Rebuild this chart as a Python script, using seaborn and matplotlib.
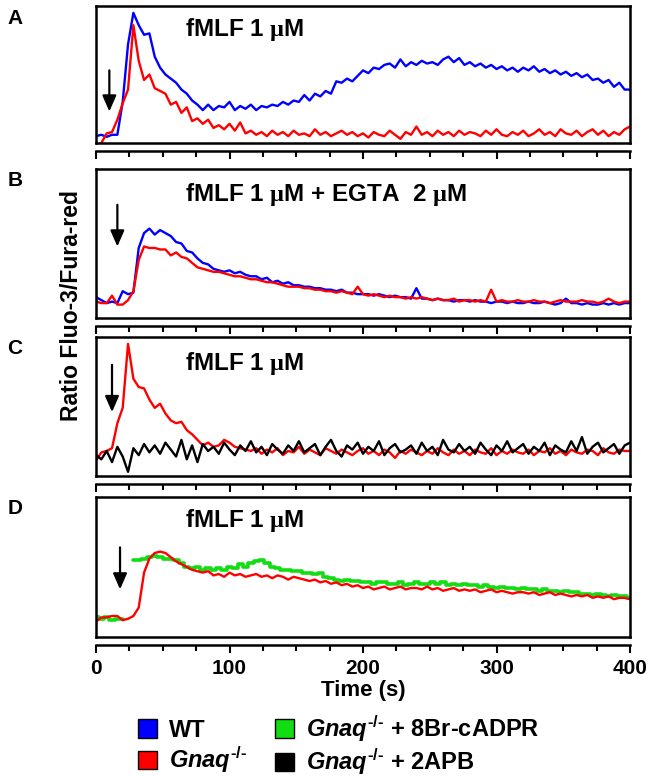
import numpy as np
import pandas as pd
import matplotlib
matplotlib.use("Agg")
import matplotlib.pyplot as plt
from matplotlib.patches import Patch
import seaborn as sns

# ---- data: Fluo-3/Fura-red ratio (relative units, 0-100 of panel range), sampled every 4 s ----
STEP_S = 4

a_wt = [5, 6, 4.5, 6, 6, 30, 72, 95, 86, 79,
        80, 63, 55, 50, 47, 44, 39, 36, 31, 28,
        24, 28, 24, 27, 26, 30, 24, 27, 25, 28,
        24, 27, 26, 28, 27, 30, 28, 31, 30, 35,
        31, 36, 34, 38, 36, 45, 44, 47, 45, 49,
        53, 51, 55, 54, 57, 58, 55, 61, 56, 59,
        57, 60, 58, 59, 57, 61, 63, 59, 62, 57,
        59, 56, 58, 55, 57, 54, 56, 53, 55, 52,
        55, 53, 56, 52, 54, 51, 53, 50, 52, 49,
        51, 48, 50, 46, 47, 44, 46, 41, 44, 39,
        39]
a_ko = [np.nan, 0, 7, 8, 17, 29, 39, 86, 60, 46,
        50, 40, 38, 36, 28, 30, 22, 26, 16, 18,
        14, 17, 11, 13, 10, 14, 9, 15, 7, 9,
        6, 8, 5, 9, 6, 8, 5, 9, 6, 7,
        5, 10, 6, 8, 5, 7, 9, 6, 8, 5,
        7, 4, 8, 6, 5, 9, 6, 3, 8, 6,
        12, 6, 8, 5, 9, 6, 8, 5, 9, 6,
        8, 7, 5, 9, 6, 10, 6, 5, 8, 6,
        9, 5, 7, 10, 6, 8, 5, 10, 7, 6,
        9, 5, 8, 10, 6, 9, 5, 8, 6, 10,
        12]

b_wt = [14, 12, 10, 11, 10, 18, 16, 17, 47, 57,
        60, 56, 59, 57, 55, 51, 50, 45, 44, 40,
        37, 36, 33, 32, 31, 32, 30, 31, 29, 28,
        28, 26, 27, 24, 25, 23, 24, 22, 22, 21,
        21, 20, 20, 19, 19, 18, 19, 17, 17, 16,
        16, 16, 15, 16, 15, 14, 15, 14, 14, 13,
        20, 13, 13, 12, 13, 12, 12, 11, 12, 12,
        11, 12, 11, 11, 10, 11, 11, 10, 11, 10,
        10, 11, 10, 10, 11, 10, 9, 10, 13, 10,
        10, 9, 10, 9, 9, 10, 9, 10, 9, 10,
        10]
b_ko = [11, 10, 10, 15, 9, 9, 12, 18, 39, 48,
        47, 47, 46, 46, 42, 44, 41, 40, 37, 34,
        33, 32, 31, 31, 30, 29, 28, 28, 27, 26,
        26, 25, 24, 24, 23, 22, 21, 21, 21, 20,
        20, 19, 19, 18, 18, 17, 18, 17, 16, 21,
        16, 15, 16, 15, 14, 15, 14, 14, 13, 14,
        13, 14, 13, 12, 13, 12, 12, 13, 11, 12,
        12, 11, 12, 11, 19, 11, 12, 11, 11, 12,
        11, 11, 12, 11, 11, 10, 11, 12, 11, 11,
        11, 12, 11, 11, 10, 11, 13, 11, 10, 11,
        11]

c_ko = [11, 17, 18, 20, 38, 49, 95, 70, 64, 63,
        55, 49, 52, 45, 40, 38, 39, 33, 30, 26,
        22, 24, 21, 22, 26, 24, 21, 20, 19, 18,
        20, 16, 19, 17, 20, 15, 18, 17, 21, 16,
        19, 17, 15, 20, 18, 16, 19, 17, 15, 18,
        20, 16, 18, 15, 19, 17, 13, 18, 16, 19,
        17, 15, 18, 16, 20, 17, 15, 19, 16, 18,
        15, 19, 17, 16, 20, 15, 18, 16, 19, 17,
        16, 19, 15, 18, 17, 20, 16, 18, 15, 19,
        17, 16, 19, 18, 15, 20, 17, 16, 19, 18,
        18]
c_2apb = [15, 12, 18, 10, 21, 14, 3, 20, 15, 23,
          17, 22, 16, 24, 19, 14, 26, 12, 22, 10,
          23, 18, 21, 16, 24, 19, 15, 22, 18, 25,
          17, 21, 15, 23, 19, 16, 22, 18, 25, 17,
          20, 23, 15, 21, 26, 18, 14, 22, 19, 24,
          16, 21, 18, 25, 15, 20, 23, 17, 19, 22,
          16, 24, 18, 21, 15, 26, 19, 17, 23, 18,
          21, 16, 24, 19, 15, 22, 18, 25, 17, 20,
          23, 16, 21, 18, 24, 15, 22, 19, 17, 25,
          18, 28, 16, 21, 24, 17, 20, 23, 16, 22,
          24]

d_ko = [11, 14, 14, 15, 15, 12, 13, 15, 21, 46,
        56, 60, 61, 60, 57, 54, 52, 50, 48, 47,
        46, 47, 44, 45, 43, 46, 44, 45, 43, 44,
        45, 43, 44, 42, 44, 43, 41, 43, 42, 41,
        40, 41, 39, 40, 38, 39, 37, 38, 36, 37,
        35, 36, 34, 35, 36, 34, 35, 36, 34, 35,
        35, 34, 36, 34, 35, 33, 34, 35, 33, 34,
        33, 34, 32, 33, 34, 32, 33, 32, 31, 32,
        32, 31, 32, 30, 31, 32, 30, 31, 30, 29,
        30, 29, 30, 28, 29, 28, 29, 27, 28, 28,
        27]
d_8br = [14, 13, 14, 12, 13, 13, np.nan, 55, 55, 56,
         57, 58, 57, 56, 56, 55, 53, 50, 49, 50,
         48, 49, 48, 49, 48, 50, 49, 52, 50, 53,
         54, 55, 53, 50, 49, 48, 48, 47, 47, 46,
         46, 45, 46, 43, 42, 41, 40, 41, 40, 40,
         39, 39, 38, 39, 39, 38, 38, 39, 37, 38,
         39, 38, 38, 39, 38, 39, 37, 38, 37, 38,
         37, 37, 36, 37, 36, 35, 36, 35, 35, 34,
         35, 34, 34, 33, 34, 33, 33, 32, 33, 32,
         32, 31, 31, 30, 31, 30, 29, 30, 29, 29,
         28]

# fMLF addition (arrow): time, arrow tail level, arrow head level
arrow_t = [10, 16, 12, 18]
arrow_top = [53, 76, 80, 64]
arrow_tip = [23, 48, 46, 34]

panel_letters = ["A", "B", "C", "D"]
panel_titles = [
    r"fMLF 1 $\mathsf{\mu}$M",
    r"fMLF 1 $\mathsf{\mu}$M + EGTA  2 $\mathsf{\mu}$M",
    r"fMLF 1 $\mathsf{\mu}$M",
    r"fMLF 1 $\mathsf{\mu}$M",
]
x_ticks = [0, 100, 200, 300, 400]

BLUE, RED, GREEN, BLACK = "#0000FF", "#FF0000", "#12DD12", "#000000"
KO = r"$\mathit{Gnaq}^{\mathit{‐/‐}}$"
legend_labels = ["WT", KO, KO + " + 8Br-cADPR", KO + " + 2APB"]
legend_colors = [BLUE, RED, GREEN, BLACK]


def to_frame(values):
    v = np.asarray(values, dtype=float)
    t = np.arange(len(v)) * STEP_S
    seg = np.cumsum(np.isnan(v))
    df = pd.DataFrame({"t": t, "ratio": v, "seg": seg})
    return df.dropna()


sns.set_theme(style="white")
plt.rcParams["font.family"] = ["Liberation Sans", "DejaVu Sans"]
plt.rcParams["font.weight"] = "bold"
plt.rcParams["text.color"] = "black"
plt.rcParams["axes.labelcolor"] = "black"
plt.rcParams["xtick.color"] = "black"
plt.rcParams["mathtext.fontset"] = "custom"
plt.rcParams["mathtext.it"] = "Liberation Sans:italic:bold"
plt.rcParams["mathtext.rm"] = "Liberation Sans:bold"
plt.rcParams["mathtext.sf"] = "Liberation Serif"

W, H = 650, 776
fig = plt.figure(figsize=(W / 100, H / 100), dpi=100)

boxes = [(6, 143), (169, 318), (337, 476), (497, 637)]
panels = [
    [(a_wt, BLUE, {}), (a_ko, RED, {})],
    [(b_wt, BLUE, {}), (b_ko, RED, {})],
    [(c_ko, RED, {}), (c_2apb, BLACK, {})],
    [(d_8br, GREEN, {"drawstyle": "steps-mid", "lw": 2.6}), (d_ko, RED, {})],
]

for i, ((top, bot), series) in enumerate(zip(boxes, panels)):
    ax = fig.add_axes([96 / W, 1 - bot / H, 534 / W, (bot - top) / H])
    for vals, col, kw in series:
        df = to_frame(vals)
        lw = kw.pop("lw", 1.7)
        sns.lineplot(data=df, x="t", y="ratio", units="seg", estimator=None,
                     color=col, lw=lw, ax=ax, **kw)
    ax.set_xlim(0, 400)
    ax.set_ylim(0, 100)
    ax.set_xlabel("")
    ax.set_ylabel("")
    ax.set_yticks([])
    ax.set_xticks(x_ticks)
    ax.set_xticks(np.arange(0, 401, 25), minor=True)
    for s in ax.spines.values():
        s.set_linewidth(1.8)
        s.set_color("black")
    ax.spines["bottom"].set_position(("outward", 6))
    ax.plot([0, 1], [0, 0], transform=ax.transAxes, color="black", lw=1.8,
            clip_on=False, solid_capstyle="projecting")
    ax.tick_params(axis="x", which="major", direction="out", length=6, width=1.5,
                   bottom=True, color="black", labelsize=15, pad=4)
    ax.tick_params(axis="x", which="minor", direction="out", length=4, width=1.5,
                   bottom=True, color="black")
    if i < 3:
        ax.tick_params(axis="x", labelbottom=False)
    else:
        for lab in ax.get_xticklabels():
            lab.set_fontweight("bold")
        ax.set_xlabel("Time (s)", fontsize=16, fontweight="bold", labelpad=1)

    ax.annotate("", xy=(arrow_t[i], arrow_tip[i]), xytext=(arrow_t[i], arrow_top[i]),
                arrowprops=dict(arrowstyle="-|>,head_width=0.35,head_length=0.8",
                                color="black", lw=1.6, shrinkA=0, shrinkB=0))
    ax.text(0.167, 0.83 if i != 2 else 0.81, panel_titles[i], transform=ax.transAxes,
            fontsize=17.5, fontweight="bold", va="center", ha="left")
    fig.text(15 / W, 1 - (top + 12) / H, panel_letters[i], fontsize=15,
             fontweight="bold", ha="center", va="center")

fig.text(72 / W, 1 - 306 / H, "Ratio Fluo-3/Fura-red", rotation=90, fontsize=16.5,
         fontweight="bold", ha="center", va="center")

handles = [Patch(facecolor=c, edgecolor="black", linewidth=1.0) for c in legend_colors]
fig.legend(handles, legend_labels, ncol=2, loc="upper left",
           bbox_to_anchor=(138 / W, 1 - 713 / H), frameon=False,
           prop={"size": 17, "weight": "bold"}, handlelength=0.8, handleheight=0.8,
           handletextpad=0.5, columnspacing=1.2, labelspacing=0.1,
           borderaxespad=0, borderpad=0)

fig.savefig("out.png", dpi=100)
